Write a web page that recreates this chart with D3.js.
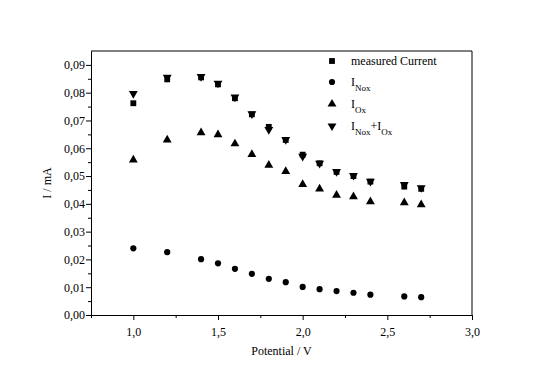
<!DOCTYPE html>
<html>
<head>
<meta charset="utf-8">
<script src="https://cdn.jsdelivr.net/npm/d3@7"></script>
<style>
body{margin:0;background:#fff;}
svg text{font-family:"Liberation Serif","DejaVu Serif",serif !important;fill:#000;}
</style>
</head>
<body>
<div id="chart"></div>
<script>
// data
const potential = [1.0, 1.2, 1.4, 1.5, 1.6, 1.7, 1.8, 1.9, 2.0, 2.1, 2.2, 2.3, 2.4, 2.6, 2.7];
const measured  = [0.0762, 0.0848, 0.0855, 0.0830, 0.0780, 0.0722, 0.0677, 0.0630, 0.0577, 0.0546, 0.0515, 0.0500, 0.0480, 0.0462, 0.0454];
const iNox      = [0.0240, 0.0226, 0.0201, 0.0186, 0.0166, 0.0148, 0.0130, 0.0118, 0.0101, 0.0093, 0.0086, 0.0080, 0.0073, 0.0067, 0.0064];
const iOx       = [0.0558, 0.0630, 0.0656, 0.0649, 0.0616, 0.0578, 0.0539, 0.0517, 0.0470, 0.0454, 0.0431, 0.0426, 0.0408, 0.0404, 0.0397];
const iSum      = [0.0797, 0.0855, 0.0858, 0.0834, 0.0784, 0.0724, 0.0667, 0.0631, 0.0571, 0.0546, 0.0516, 0.0502, 0.0481, 0.0469, 0.0458];
const xTicks = [1.0, 1.5, 2.0, 2.5, 3.0];
const yTicks = [0, 0.01, 0.02, 0.03, 0.04, 0.05, 0.06, 0.07, 0.08, 0.09];

var width = 544, height = 378;
var margin = {top: 51, right: 72, bottom: 63, left: 91};
var w = width - margin.left - margin.right,
    h = height - margin.top - margin.bottom;

var svg = d3.select("#chart").append("svg")
    .attr("width", width).attr("height", height);
var g = svg.append("g")
    .attr("transform", "translate(" + margin.left + "," + margin.top + ")");

var x = d3.scaleLinear().domain([0.75, 3.0]).range([0, w]);
var y = d3.scaleLinear().domain([0, 0.095]).range([h, 0]);

var fmtX = d => d3.format(".1f")(d).replace(".", ",");
var fmtY = d => d3.format(".2f")(d).replace(".", ",");

// minor ticks
var xMinor = [0.75, 1.25, 1.75, 2.25, 2.75];
var yMinor = d3.range(0.005, 0.095, 0.01);

var xAxis = g.append("g").attr("transform", "translate(0," + h + ")")
    .call(d3.axisBottom(x).tickValues(xTicks).tickFormat(fmtX).tickSize(5).tickSizeOuter(0));
g.append("g").attr("transform", "translate(0," + h + ")")
    .call(d3.axisBottom(x).tickValues(xMinor).tickFormat("").tickSize(3).tickSizeOuter(0));
var yAxis = g.append("g")
    .call(d3.axisLeft(y).tickValues(yTicks).tickFormat(fmtY).tickSize(5).tickSizeOuter(0));
g.append("g")
    .call(d3.axisLeft(y).tickValues(yMinor).tickFormat("").tickSize(3).tickSizeOuter(0));

g.selectAll("g").attr("font-family", null);
g.selectAll(".domain").attr("stroke", "#000");
g.selectAll(".tick line").attr("stroke", "#000");
g.selectAll(".tick text").style("font-size", "12px");
xAxis.selectAll(".tick text").attr("dy", "1.05em");
yAxis.selectAll(".tick text").attr("x", -6);

// frame top and right
g.append("line").attr("x1", 0).attr("x2", w).attr("y1", 0).attr("y2", 0).attr("stroke", "#000");
g.append("line").attr("x1", w).attr("x2", w).attr("y1", 0).attr("y2", h).attr("stroke", "#000");

// axis titles
svg.append("text").attr("x", margin.left + w / 2).attr("y", 355)
    .attr("text-anchor", "middle").style("font-size", "12px").text("Potential / V");
svg.append("text").attr("transform", "translate(51," + (margin.top + y(0.0475)) + ") rotate(-90)")
    .attr("text-anchor", "middle").style("font-size", "12px").text("I / mA");

// symbols
var sym = {
  square: d3.symbol().type(d3.symbolSquare).size(34),
  circle: d3.symbol().type(d3.symbolCircle).size(30),
  up: d3.symbol().type(d3.symbolTriangle).size(34),
  down: d3.symbol().type(d3.symbolTriangle).size(34)
};

var series = [
  {vals: measured, s: "square", rot: 0},
  {vals: iNox, s: "circle", rot: 0},
  {vals: iOx, s: "up", rot: 0},
  {vals: iSum, s: "down", rot: 180}
];

series.forEach(function(sr) {
  g.selectAll(null).data(potential).enter().append("path")
    .attr("d", sym[sr.s])
    .attr("fill", "#000")
    .attr("transform", (d, i) => "translate(" + x(d) + "," + y(sr.vals[i]) + ") rotate(" + sr.rot + ")");
});

// legend
var legend = [
  {s: "square", rot: 0, y: 61, main: "measured Current"},
  {s: "circle", rot: 0, y: 82, parts: [["I", ""], ["Nox", "sub"]]},
  {s: "up", rot: 0, y: 104, parts: [["I", ""], ["Ox", "sub"]]},
  {s: "down", rot: 180, y: 126, parts: [["I", ""], ["Nox", "sub"], ["+I", ""], ["Ox", "sub"]]}
];
legend.forEach(function(l) {
  svg.append("path").attr("d", sym[l.s]).attr("fill", "#000")
    .attr("transform", "translate(332," + l.y + ") rotate(" + l.rot + ")");
  var t = svg.append("text").attr("x", 351).attr("y", l.y + 4).style("font-size", "12px");
  if (l.main) { t.text(l.main); return; }
  l.parts.forEach(function(p, i) {
    var ts = t.append("tspan").text(p[0]);
    if (p[1] == "sub") ts.style("font-size", "9px").attr("dy", 5);
    else ts.attr("dy", i === 0 ? 0 : -5);
  });
});
</script>
</body>
</html>
